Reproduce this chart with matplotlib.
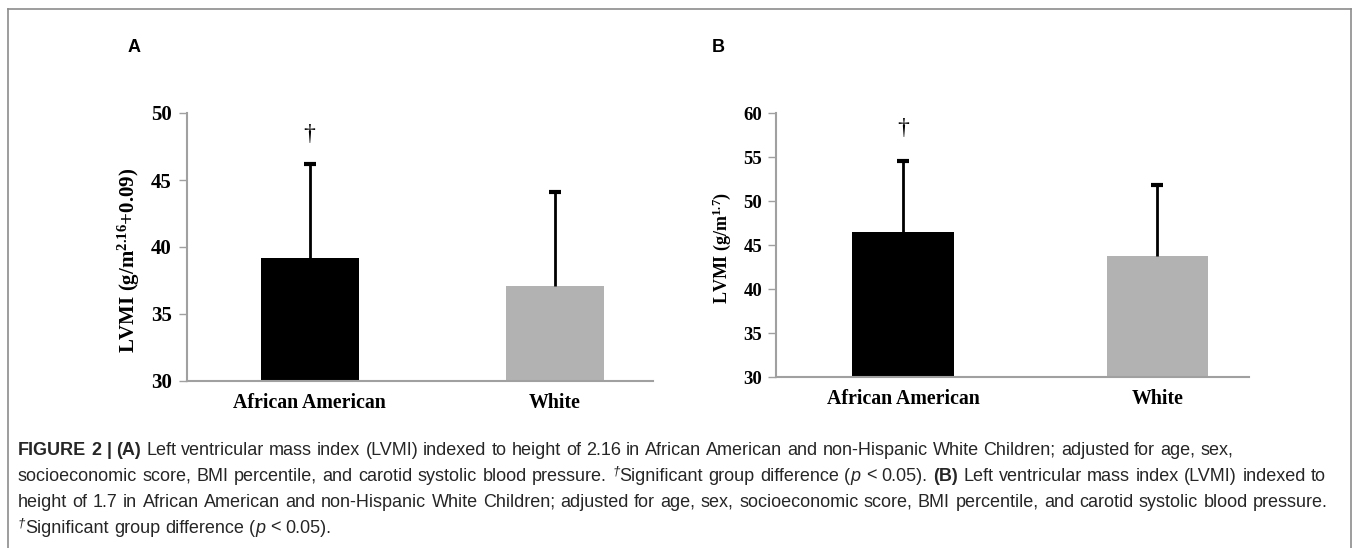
import matplotlib
matplotlib.use("Agg")
import matplotlib.pyplot as plt
from matplotlib.lines import Line2D

W, H = 1357, 548

groups = ["African American", "White"]
bar_colours = ["#000000", "#b2b2b2"]

# panel A: LVMI indexed to height^2.16
lvmi_a = [39.2, 37.1]
sd_a = [7.0, 7.0]
# panel B: LVMI indexed to height^1.7
lvmi_b = [46.5, 43.8]
sd_b = [8.0, 8.0]

plt.rcParams["mathtext.fontset"] = "custom"
plt.rcParams["mathtext.rm"] = "Liberation Serif:bold"
plt.rcParams["mathtext.bf"] = "Liberation Serif:bold"
plt.rcParams["mathtext.it"] = "Liberation Serif:italic:bold"

spine_grey = "#a0a0a0"
serif = "Liberation Serif"


def px_axes(fig, left, top, right, bottom):
    return fig.add_axes([left / W, 1 - bottom / H, (right - left) / W, (bottom - top) / H])


def bar_panel(ax, means, sds, ylim, yticks, xlim, tick_size, label, label_size,
              label_xy, dagger_y, pad):
    x = list(range(len(means)))
    tops = [m + s for m, s in zip(means, sds)]
    ax.bar(x, means, width=0.4, color=bar_colours, zorder=2)
    # upper error bars only
    ax.vlines(x, means, tops, color="black", lw=2, zorder=3)
    ax.plot(x, tops, ls="none", marker="_", ms=8, mew=3, color="black", zorder=3)
    ax.set_ylim(*ylim)
    ax.set_xlim(*xlim)
    ax.set_yticks(yticks)
    ax.set_xticks(x)
    ax.set_xticklabels(groups, fontfamily=serif, fontweight="bold", fontsize=14.3)
    for lab in ax.get_yticklabels():
        lab.set_fontfamily(serif)
        lab.set_fontweight("bold")
        lab.set_fontsize(tick_size)
    ax.tick_params(axis="y", direction="out", length=6, width=1, color=spine_grey, pad=pad)
    ax.tick_params(axis="x", length=0, pad=9)
    for side in ["top", "right"]:
        ax.spines[side].set_visible(False)
    for side in ["left", "bottom"]:
        ax.spines[side].set_color(spine_grey)
        ax.spines[side].set_linewidth(1.5)
    ax.set_ylabel(label, fontfamily=serif, fontweight="bold", fontsize=label_size)
    ax.yaxis.set_label_coords(*label_xy)
    ax.text(0, dagger_y, "\u2020", ha="center", va="center", fontfamily=serif,
            fontsize=17)
    ax.patch.set_alpha(0)


fig = plt.figure(figsize=(W / 100, H / 100), dpi=100)

ax_a = px_axes(fig, 187, 113, 653, 381)
bar_panel(ax_a, lvmi_a, sd_a, (30, 50), [30, 35, 40, 45, 50], (-0.5, 1.4), 15,
          "LVMI (g/m$^{2.16}$+0.09)", 15, (-0.097, 0.45), 48.4, 5)

ax_b = px_axes(fig, 776, 113, 1249, 377)
bar_panel(ax_b, lvmi_b, sd_b, (30, 60), [30, 35, 40, 45, 50, 55, 60], (-0.5, 1.36), 13.5,
          "LVMI (g/m$^{1.7}$)", 13, (-0.091, 0.49), 58.2, 4)

fig.text(128 / W, 1 - 47 / H, "A", ha="left", va="center", fontfamily="Liberation Sans",
         fontweight="bold", fontsize=13)
fig.text(712 / W, 1 - 47 / H, "B", ha="left", va="center", fontfamily="Liberation Sans",
         fontweight="bold", fontsize=13)

# outer frame of the figure panel
frame = dict(color="#8c8c8c", lw=1.2, transform=None)
fig.add_artist(Line2D([8, 1351], [H - 9, H - 9], **frame))
fig.add_artist(Line2D([8, 8], [-5, H - 9], **frame))
fig.add_artist(Line2D([1351, 1351], [-5, H - 9], **frame))

# caption, laid out word by word (lines 2 and 3 are justified)
renderer = fig.canvas.get_renderer()
cap_size = 13
cap_col = "#262626"
styles = {
    "n": dict(fontfamily="Liberation Sans", fontsize=cap_size),
    "b": dict(fontfamily="Liberation Sans", fontsize=cap_size, fontweight="bold"),
    "i": dict(fontfamily="Liberation Sans", fontsize=cap_size, fontstyle="italic"),
    "s": dict(fontfamily="Liberation Sans", fontsize=9.5, fontstyle="italic"),
}
raise_px = {"n": 0, "b": 0, "i": 0, "s": 6}


def advance(s, style):
    probe = fig.text(0, 0, "|" + s + "|", **styles[style])
    ref = fig.text(0, 0, "||", **styles[style])
    w = probe.get_window_extent(renderer).width - ref.get_window_extent(renderer).width
    probe.remove()
    ref.remove()
    return w


space_w = advance(" ", "n")


def caption_line(runs, x, y, right=None):
    tokens = []
    pending = False
    for s, style in runs:
        for k, part in enumerate(s.split(" ")):
            if k > 0:
                pending = True
            if part == "":
                continue
            tokens.append((part, style, pending, advance(part, style)))
            pending = False
    n_gaps = sum(1 for t in tokens if t[2])
    natural = sum(t[3] for t in tokens) + n_gaps * space_w
    gap = space_w
    if right is not None and n_gaps:
        gap = space_w + (right - x - natural) / n_gaps
    for word, style, sp, w in tokens:
        if sp:
            x += gap
        # words share one baseline; small offset keeps pixel rounding consistent
        ypix = H - y + raise_px[style] + 0.3
        fig.text(x / W, ypix / H, word, ha="left", va="baseline",
                 color=cap_col, **styles[style])
        x += w


cap_lines = [
    [("FIGURE 2 | (A)", "b"),
     (" Left ventricular mass index (LVMI) indexed to height of 2.16 in African American "
      "and non-Hispanic White Children; adjusted for age, sex,", "n")],
    [("socioeconomic score, BMI percentile, and carotid systolic blood pressure. ", "n"),
     ("\u2020", "s"), ("Significant group difference (", "n"), ("p", "i"),
     (" < 0.05). ", "n"), ("(B)", "b"),
     (" Left ventricular mass index (LVMI) indexed to", "n")],
    [("height of 1.7 in African American and non-Hispanic White Children; adjusted for age, "
      "sex, socioeconomic score, BMI percentile, and carotid systolic blood pressure.", "n")],
    [("\u2020", "s"), ("Significant group difference (", "n"), ("p", "i"),
     (" < 0.05).", "n")],
]
justify = [None, 1326, 1328, None]
for i, runs in enumerate(cap_lines):
    caption_line(runs, 18, 455 + 26 * i, justify[i])

fig.savefig("out.png", dpi=100)
